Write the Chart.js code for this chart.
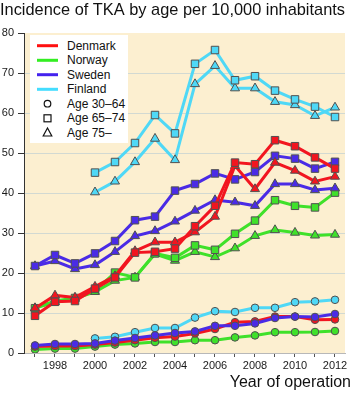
<!DOCTYPE html>
<html>
<head>
<meta charset="utf-8">
<script src="https://cdn.jsdelivr.net/npm/chart.js@4"></script>
<style>
  html, body { margin: 0; padding: 0; background: #fff; }
  #wrap { position: relative; width: 353px; height: 394px; }
  #legend { position: absolute; left: 0; top: 0; pointer-events: none; }
  #legend text { font-family: 'Liberation Sans', Arial, sans-serif; font-size: 12px; fill: #111; }
</style>
</head>
<body>
<div id="wrap">
  <canvas id="c" width="353" height="394"></canvas>
  <svg id="legend" width="353" height="394" xmlns="http://www.w3.org/2000/svg">
    <rect x="30" y="35" width="98" height="108" fill="#ffffff"/>
    <line x1="37" y1="45.7" x2="58" y2="45.7" stroke="#ff1010" stroke-width="3"/>
    <text x="67" y="45.7" dominant-baseline="central">Denmark</text>
    <line x1="37" y1="60.3" x2="58" y2="60.3" stroke="#33ee22" stroke-width="3"/>
    <text x="67" y="60.3" dominant-baseline="central">Norway</text>
    <line x1="37" y1="74.7" x2="58" y2="74.7" stroke="#4422ee" stroke-width="3"/>
    <text x="67" y="74.7" dominant-baseline="central">Sweden</text>
    <line x1="37" y1="89.3" x2="58" y2="89.3" stroke="#44ddff" stroke-width="3"/>
    <text x="67" y="89.3" dominant-baseline="central">Finland</text>
    <circle cx="47.5" cy="103.7" r="3.3" fill="none" stroke="#111" stroke-width="1.2"/>
    <text x="67" y="103.7" dominant-baseline="central">Age 30–64</text>
    <rect x="44" y="114.8" width="7" height="7" fill="none" stroke="#111" stroke-width="1.2"/>
    <text x="67" y="118.3" dominant-baseline="central">Age 65–74</text>
    <polygon points="47.5,128 51.8,136 43.2,136" fill="none" stroke="#111" stroke-width="1.2"/>
    <text x="67" y="132.7" dominant-baseline="central">Age 75–</text>
  </svg>
</div>
<script>
const years = [1997,1998,1999,2000,2001,2002,2003,2004,2005,2006,2007,2008,2009,2010,2011,2012];

const denmark3064 = [1.6,1.75,1.75,2.1,2.6,3.2,3.8,4.1,4.9,6.0,7.7,7.9,9.1,9.1,8.3,8.4];
const denmark6574 = [9.3,12.8,13.0,16.1,18.9,25.1,25.3,26.1,31.7,36.8,47.6,47.2,53.2,51.7,48.9,46.1];
const denmark75   = [11.2,14.4,13.9,16.6,19.25,25.5,27.7,27.7,30.2,34.1,46.8,41.0,47.6,45.6,42.9,44.1];

const norway3064 = [0.9,1.1,1.1,1.6,2.1,2.4,2.75,2.75,3.2,3.2,3.9,4.4,5.2,5.2,5.25,5.5];
const norway6574 = [11.2,13.0,13.75,15.6,20.1,18.9,24.9,23.8,26.9,25.8,29.8,33.1,38.2,36.8,36.4,40.1];
const norway75   = [11.25,12.75,13.6,15.3,18.1,18.9,24.75,23.1,25.3,24.0,26.2,29.3,30.75,30.1,29.4,29.6];

const sweden3064 = [1.9,2.25,2.25,2.4,3.1,3.75,4.4,5.0,5.4,6.8,6.8,7.4,8.75,9.1,9.0,9.75];
const sweden6574 = [21.75,24.5,22.4,24.9,28.0,33.2,34.1,40.6,42.25,44.9,43.4,45.25,49.3,48.6,46.1,47.8];
const sweden75   = [21.75,23.0,21.0,22.0,25.3,29.25,30.5,32.9,35.6,38.25,37.7,36.8,42.25,42.25,40.75,41.2];

const finland3064 = [null,null,null,3.65,4.05,5.2,6.25,6.25,8.85,10.45,10.25,11.3,11.3,12.7,12.9,13.3];
const finland6574 = [null,null,null,45.1,47.75,52.5,59.5,54.9,72.3,75.75,68.2,69.2,65.6,63.4,61.6,59.0];
const finland75   = [null,null,null,40.2,42.9,47.75,53.6,48.25,67.25,71.8,66.2,66.2,62.8,62.0,59.3,61.4];

const yTicks = [0,10,20,30,40,50,60,70,80];

const colors = { Denmark: '#f2151f', Norway: '#3fe12a', Sweden: '#4a2be6', Finland: '#4fd8f6' };
const styles = { '30–64': ['circle', 3.8], '65–74': ['rect', 5.3], '75–': ['triangle', 5.2] };

function series(country, age, vals) {
  const [ps, r] = styles[age];
  return {
    label: country + ' ' + age,
    data: years.map((yr, i) => ({ x: yr, y: vals[i] })),
    borderColor: colors[country],
    backgroundColor: colors[country],
    borderWidth: 3,
    pointStyle: ps,
    pointRadius: r,
    pointHoverRadius: r,
    pointBorderColor: '#505050',
    pointBorderWidth: 1,
    pointBackgroundColor: colors[country],
    tension: 0,
    spanGaps: false
  };
}

const datasets = [
  series('Sweden', '30–64', sweden3064),
  series('Finland', '30–64', finland3064),
  series('Denmark', '30–64', denmark3064),
  series('Norway', '30–64', norway3064),
  series('Denmark', '65–74', denmark6574),
  series('Denmark', '75–', denmark75),
  series('Sweden', '65–74', sweden6574),
  series('Sweden', '75–', sweden75),
  series('Norway', '65–74', norway6574),
  series('Norway', '75–', norway75),
  series('Finland', '65–74', finland6574),
  series('Finland', '75–', finland75)
];

const bgPlugin = {
  id: 'plotBg',
  afterLayout(chart) {
    // let the x-axis title run a few pixels past the plot's right edge, as in the reference
    const s = chart.scales.x;
    if (s && !s._titleShifted) {
      const orig = s.drawTitle.bind(s);
      s.drawTitle = function () {
        const r = this.right;
        this.right = r + 6;
        orig();
        this.right = r;
      };
      s._titleShifted = true;
    }
  },
  beforeDraw(chart) {
    const { ctx, chartArea: a } = chart;
    ctx.save();
    ctx.fillStyle = '#fcefd0';
    ctx.fillRect(a.left, a.top, a.right - a.left, a.bottom - a.top);
    ctx.restore();
  }
};

const FONT = "'Liberation Sans', Arial, sans-serif";

new Chart(document.getElementById('c'), {
  type: 'line',
  data: { datasets },
  plugins: [bgPlugin],
  options: {
    responsive: false,
    animation: false,
    events: [],
    layout: { padding: { left: 0, right: 8, top: 0, bottom: 0 } },
    plugins: {
      legend: { display: false },
      tooltip: { enabled: false },
      title: {
        display: true,
        text: 'Incidence of TKA by age per 10,000 inhabitants',
        align: 'start',
        color: '#111',
        font: { family: FONT, size: 16.6, weight: 'normal', lineHeight: 1.2 },
        padding: { top: 0, bottom: 13.1 }
      }
    },
    scales: {
      x: {
        type: 'linear',
        min: 1996.45,
        max: 2012.5,
        ticks: {
          stepSize: 1,
          includeBounds: false,
          autoSkip: false,
          maxRotation: 0,
          minRotation: 0,
          padding: 2,
          color: '#1a1a1a',
          font: { family: FONT, size: 11, lineHeight: 1.2 },
          callback: (v) => (Number.isInteger(v) && v % 2 === 0) ? String(v) : ''
        },
        grid: { drawOnChartArea: false, drawTicks: true, tickLength: 4, tickColor: '#555' },
        border: { display: true, color: '#b8b8b8', width: 1 },
        title: {
          display: true,
          text: 'Year of operation',
          align: 'end',
          color: '#111',
          font: { family: FONT, size: 16, lineHeight: 1.0 },
          padding: { top: 0, bottom: 3.8 }
        }
      },
      y: {
        type: 'linear',
        min: yTicks[0],
        max: yTicks[yTicks.length - 1],
        afterFit: (s) => { s.width = 24; },
        afterBuildTicks: (s) => { s.ticks = yTicks.map(v => ({ value: v })); },
        ticks: {
          stepSize: 10,
          padding: 4,
          color: '#1a1a1a',
          font: { family: FONT, size: 11 }
        },
        grid: {
          drawTicks: true,
          tickLength: 6,
          tickColor: '#333',
          color: (c) => (c.tick && (c.tick.value === 0 || c.tick.value === 80)) ? 'rgba(0,0,0,0)' : 'rgba(175,198,212,0.55)',
          lineWidth: 1
        },
        border: { display: true, color: '#333', width: 1 }
      }
    }
  }
});
</script>
</body>
</html>
